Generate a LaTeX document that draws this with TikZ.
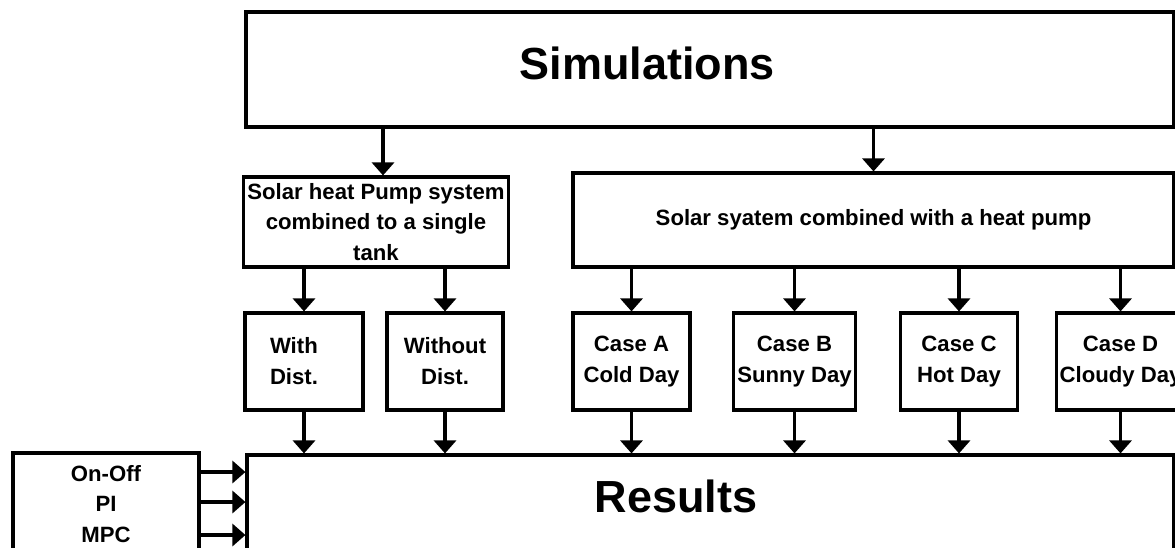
\documentclass[tikz,border=0pt]{standalone}
\usepackage{fontspec}
\setmainfont{Liberation Sans}
\usetikzlibrary{arrows.meta,positioning}

\newcommand{\boxfont}{\fontsize{6.3}{8.8}\selectfont\bfseries}
\newcommand{\titlefont}{\fontsize{12.8}{15}\selectfont\bfseries}

\tikzset{
  box/.style={draw, line width=0.9pt, inner sep=1pt, font=\boxfont},
  casebox/.style={box, minimum width=1.17cm, minimum height=0.97cm, align=center},
  bigtext/.style={font=\titlefont},
  arr/.style={-{Triangle[width=0.22cm,length=0.13cm]}, line width=0.9pt},
}

\begin{document}
\begin{tikzpicture}
\clip (0,0) rectangle (11.75,5.47);
\fill[white] (0,0) rectangle (11.75,5.47);

% top level
\node[box, minimum width=9.28cm, minimum height=1.15cm] (sim) at (7.10,4.775) {};
\node[bigtext] (simtxt) at (6.47,4.84) {Simulations};

% the two systems
\node[box, minimum width=2.60cm, minimum height=0.90cm, align=center] (pumpsys) at (3.76,3.25)
  {Solar heat Pump system\\combined to a single\\tank};
\node[box, minimum width=6.01cm, minimum height=0.94cm] (solsys) at (8.735,3.27)
  {Solar syatem combined with a heat pump};

\coordinate (pin) at ([xshift=0.07cm]pumpsys.north);
\draw[arr] (pin |- sim.south) -- (pin);
\draw[arr] (solsys.north |- sim.south) -- (solsys.north);

% results and controllers
\node[box, minimum width=9.27cm, minimum height=1.02cm] (res) at (7.105,0.41) {};
\node[bigtext] (restxt) at (6.76,0.51) {Results};
\node[box, minimum width=1.86cm, minimum height=1.02cm, align=center] (ctrl) at (1.06,0.43)
  {On-Off\\PI\\MPC};
\foreach \y in {0.75,0.45,0.12}
  \draw[arr] (ctrl.east |- 0,\y) -- (res.west |- 0,\y);

% disturbance variants
\node[casebox, minimum width=1.18cm, text width=0.68cm, align=left] (withd) at (3.04,1.855) {With\\Dist.};
\node[casebox, minimum width=1.16cm] (nodist) at (4.45,1.855) {Without\\Dist.};
\foreach \nm in {withd,nodist} {
  \draw[arr] (pumpsys.south -| \nm.north) -- (\nm.north);
  \draw[arr] (\nm.south) -- (\nm.south |- res.north);
}

% weather cases
\foreach \nm/\x/\lab in {casea/6.315/{Case A\\Cold Day}, caseb/7.945/{Case B\\Sunny Day},
                         casec/9.59/{Case C\\Hot Day}, cased/11.205/{Case D\\Cloudy Day}} {
  \node[casebox] (\nm) at (\x,1.855) {\lab};
  \draw[arr] (solsys.south -| \nm.north) -- (\nm.north);
  \draw[arr] (\nm.south) -- (\nm.south |- res.north);
}
\end{tikzpicture}
\end{document}
